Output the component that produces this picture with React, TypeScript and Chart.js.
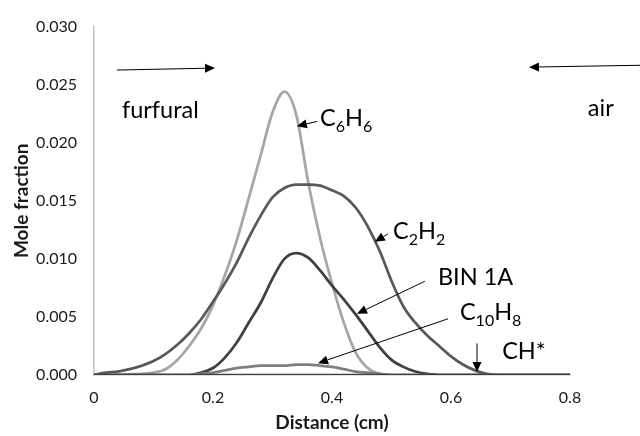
import React, { useEffect, useRef } from "react";
import { Chart, registerables } from "chart.js";

Chart.register(...registerables);

// ---- Data ----
const distance = [
  0, 0.02, 0.04, 0.06, 0.08, 0.1, 0.12, 0.14, 0.16, 0.18, 0.2, 0.22, 0.24, 0.26, 0.28, 0.3,
  0.32, 0.34, 0.36, 0.38, 0.4, 0.42, 0.44, 0.46, 0.48, 0.5, 0.52, 0.54, 0.56, 0.58, 0.6,
  0.62, 0.64, 0.66, 0.68, 0.7, 0.72, 0.74, 0.76, 0.78, 0.8,
];

const c6h6 = [
  0, 0, 0, 0.00005, 0.0001, 0.0002, 0.0005, 0.0013, 0.0025, 0.004, 0.006, 0.0086, 0.0116,
  0.0152, 0.0189, 0.0226, 0.0244, 0.0224, 0.0166, 0.0118, 0.0079, 0.0045, 0.0019, 0.0006,
  0.0001, 0, 0, 0, 0, 0, 0, 0, 0, 0, 0, 0, 0, 0, 0, 0, 0,
];

const c2h2 = [
  0, 0.0002, 0.0003, 0.0005, 0.0008, 0.0012, 0.0018, 0.0026, 0.0036, 0.0048, 0.0063,
  0.0079, 0.0097, 0.0118, 0.0137, 0.0153, 0.0161, 0.0164, 0.0164, 0.0163, 0.0159, 0.0154,
  0.0144, 0.0128, 0.0107, 0.0081, 0.0059, 0.0045, 0.0034, 0.0025, 0.0016, 0.0009, 0.0004,
  0.0001, 0, 0, 0, 0, 0, 0, 0,
];

const bin1a = [
  0, 0, 0, 0, 0, 0, 0, 0, 0, 0.0002, 0.0006, 0.0015, 0.0028, 0.0045, 0.0062, 0.0083, 0.01,
  0.0105, 0.0101, 0.009, 0.0077, 0.0065, 0.0052, 0.0038, 0.0024, 0.0013, 0.0007, 0.0003,
  0.0001, 0, 0, 0, 0, 0, 0, 0, 0, 0, 0, 0, 0,
];

const c10h8 = [
  0, 0, 0, 0, 0, 0, 0, 0, 0, 0.0001, 0.0002, 0.0004, 0.0006, 0.0007, 0.0008, 0.0008, 0.0008,
  0.0009, 0.0009, 0.0008, 0.0007, 0.0005, 0.0003, 0.0002, 0.0001, 0, 0, 0, 0, 0, 0, 0, 0, 0,
  0, 0, 0, 0, 0, 0, 0,
];

const chStar = [
  0, 0, 0, 0, 0, 0, 0, 0, 0, 0, 0, 0, 0, 0, 0, 0, 0, 0, 0, 0, 0, 0, 0, 0, 0, 0, 0, 0, 0, 0,
  0, 0, 0, 0, 0, 0, 0, 0, 0, 0, 0,
];

const seriesNames = ["CH*", "C10H8", "BIN 1A", "C2H2", "C6H6"];
const xTicks = [0, 0.2, 0.4, 0.6, 0.8];
const yTicks = [0, 0.005, 0.01, 0.015, 0.02, 0.025, 0.03];

// ---- Annotations (data coordinates) ----
type Piece = { t: string; sub?: boolean };
const labels: { x: number; y: number; parts: Piece[] }[] = [
  { x: 0.047, y: 0.0229, parts: [{ t: "furfural" }] },
  { x: 0.83, y: 0.0230, parts: [{ t: "air" }] },
  { x: 0.38, y: 0.0222, parts: [{ t: "C" }, { t: "6", sub: true }, { t: "H" }, { t: "6", sub: true }] },
  { x: 0.5025, y: 0.0124, parts: [{ t: "C" }, { t: "2", sub: true }, { t: "H" }, { t: "2", sub: true }] },
  { x: 0.578, y: 0.0085, parts: [{ t: "BIN 1A" }] },
  { x: 0.615, y: 0.0055, parts: [{ t: "C" }, { t: "10", sub: true }, { t: "H" }, { t: "8", sub: true }] },
  { x: 0.686, y: 0.0021, parts: [{ t: "CH*" }] },
];

const arrows: { x1: number; y1: number; x2: number; y2: number }[] = [
  { x1: 0.0387, y1: 0.02626, x2: 0.2034, y2: 0.02643 },
  { x1: 0.93, y1: 0.02668, x2: 0.731, y2: 0.02651 },
  { x1: 0.375, y1: 0.02184, x2: 0.341, y2: 0.02142 },
  { x1: 0.494, y1: 0.01215, x2: 0.472, y2: 0.01147 },
  { x1: 0.556, y1: 0.00807, x2: 0.442, y2: 0.00527 },
  { x1: 0.595, y1: 0.00484, x2: 0.3765, y2: 0.00102 },
  { x1: 0.6437, y1: 0.00272, x2: 0.6437, y2: 0.00025 },
];

const FONT = "Lato, 'Open Sans', sans-serif";

const annotationPlugin = {
  id: "annotations",
  afterDatasetsDraw(chart: any) {
    const { ctx, scales } = chart;
    const xs = scales.x;
    const ys = scales.y;
    ctx.save();
    ctx.strokeStyle = "#000";
    ctx.fillStyle = "#000";
    ctx.lineWidth = 1;
    for (const a of arrows) {
      const x1 = xs.getPixelForValue(a.x1);
      const y1 = ys.getPixelForValue(a.y1);
      const x2 = xs.getPixelForValue(a.x2);
      const y2 = ys.getPixelForValue(a.y2);
      const ang = Math.atan2(y2 - y1, x2 - x1);
      const headLen = 10;
      const headW = 4.5;
      const bx = x2 - headLen * Math.cos(ang);
      const by = y2 - headLen * Math.sin(ang);
      ctx.beginPath();
      ctx.moveTo(x1, y1);
      ctx.lineTo(bx, by);
      ctx.stroke();
      ctx.beginPath();
      ctx.moveTo(x2, y2);
      ctx.lineTo(bx + headW * Math.sin(ang), by - headW * Math.cos(ang));
      ctx.lineTo(bx - headW * Math.sin(ang), by + headW * Math.cos(ang));
      ctx.closePath();
      ctx.fill();
    }
    ctx.fillStyle = "#000";
    ctx.textBaseline = "alphabetic";
    ctx.textAlign = "left";
    for (const l of labels) {
      let x = xs.getPixelForValue(l.x);
      const yc = ys.getPixelForValue(l.y);
      const base = yc + 8.5;
      for (const p of l.parts) {
        if (p.sub) {
          ctx.font = `16px ${FONT}`;
          ctx.fillText(p.t, x, base + 6);
        } else {
          ctx.font = `23.5px ${FONT}`;
          ctx.fillText(p.t, x, base);
        }
        x += ctx.measureText(p.t).width;
      }
    }
    ctx.restore();
  },
};

export default function App() {
  const ref = useRef<HTMLCanvasElement | null>(null);

  useEffect(() => {
    if (!ref.current) return;
    const mk = (vals: number[]) => distance.map((x, i) => ({ x, y: vals[i] }));
    const colors = ["#3f3f3f", "#7f7f7f", "#404040", "#595959", "#a6a6a6"];
    const values = [chStar, c10h8, bin1a, c2h2, c6h6];
    const chart = new Chart(ref.current, {
      type: "line",
      data: {
        datasets: seriesNames.map((name, i) => ({
          label: name,
          data: mk(values[i]),
          borderColor: colors[i],
          backgroundColor: colors[i],
          borderWidth: 2.75,
          pointRadius: 0,
          cubicInterpolationMode: "monotone" as const,
          fill: false,
        })),
      },
      options: {
        responsive: false,
        animation: false,
        maintainAspectRatio: false,
        layout: { padding: { left: 0, right: 70, top: 22, bottom: 0 } },
        plugins: {
          legend: { display: false },
          tooltip: { enabled: false },
        },
        scales: {
          x: {
            type: "linear",
            min: 0,
            max: 0.8,
            afterBuildTicks: (s: any) => {
              s.ticks = xTicks.map((v) => ({ value: v }));
            },
            afterFit: (s: any) => {
              s.height = 61;
            },
            grid: { display: false, drawTicks: false },
            border: { display: true, color: "#bfbfbf", width: 1.5 },
            ticks: {
              padding: 13,
              color: "#1a1a1a",
              font: { family: FONT, size: 16 },
              maxRotation: 0,
              callback: (v: any) => String(Number(v)),
            },
            title: {
              display: true,
              text: "Distance (cm)",
              color: "#1a1a1a",
              font: { family: FONT, size: 19, weight: "bold" },
              padding: { top: 0, bottom: 1.5 },
            },
          },
          y: {
            type: "linear",
            min: 0,
            max: 0.03,
            afterBuildTicks: (s: any) => {
              s.ticks = yTicks.map((v) => ({ value: v }));
            },
            afterFit: (s: any) => {
              s.width = 94;
            },
            grid: { display: false, drawTicks: false },
            border: { display: true, color: "#bfbfbf", width: 1.5 },
            ticks: {
              padding: 17,
              color: "#1a1a1a",
              font: { family: FONT, size: 16 },
              callback: (v: any) => Number(v).toFixed(3),
            },
            title: {
              display: true,
              text: "Mole fraction",
              color: "#1a1a1a",
              font: { family: FONT, size: 19, weight: "bold" },
              padding: { top: 10.5, bottom: 0 },
            },
          },
        },
      },
      plugins: [annotationPlugin],
    });
    return () => chart.destroy();
  }, []);

  return (
    <div style={{ position: "fixed", left: 0, top: 0, width: 640, height: 436, background: "#fff" }}>
      <canvas ref={ref} width={640} height={436} style={{ width: 640, height: 436 }} />
    </div>
  );
}
